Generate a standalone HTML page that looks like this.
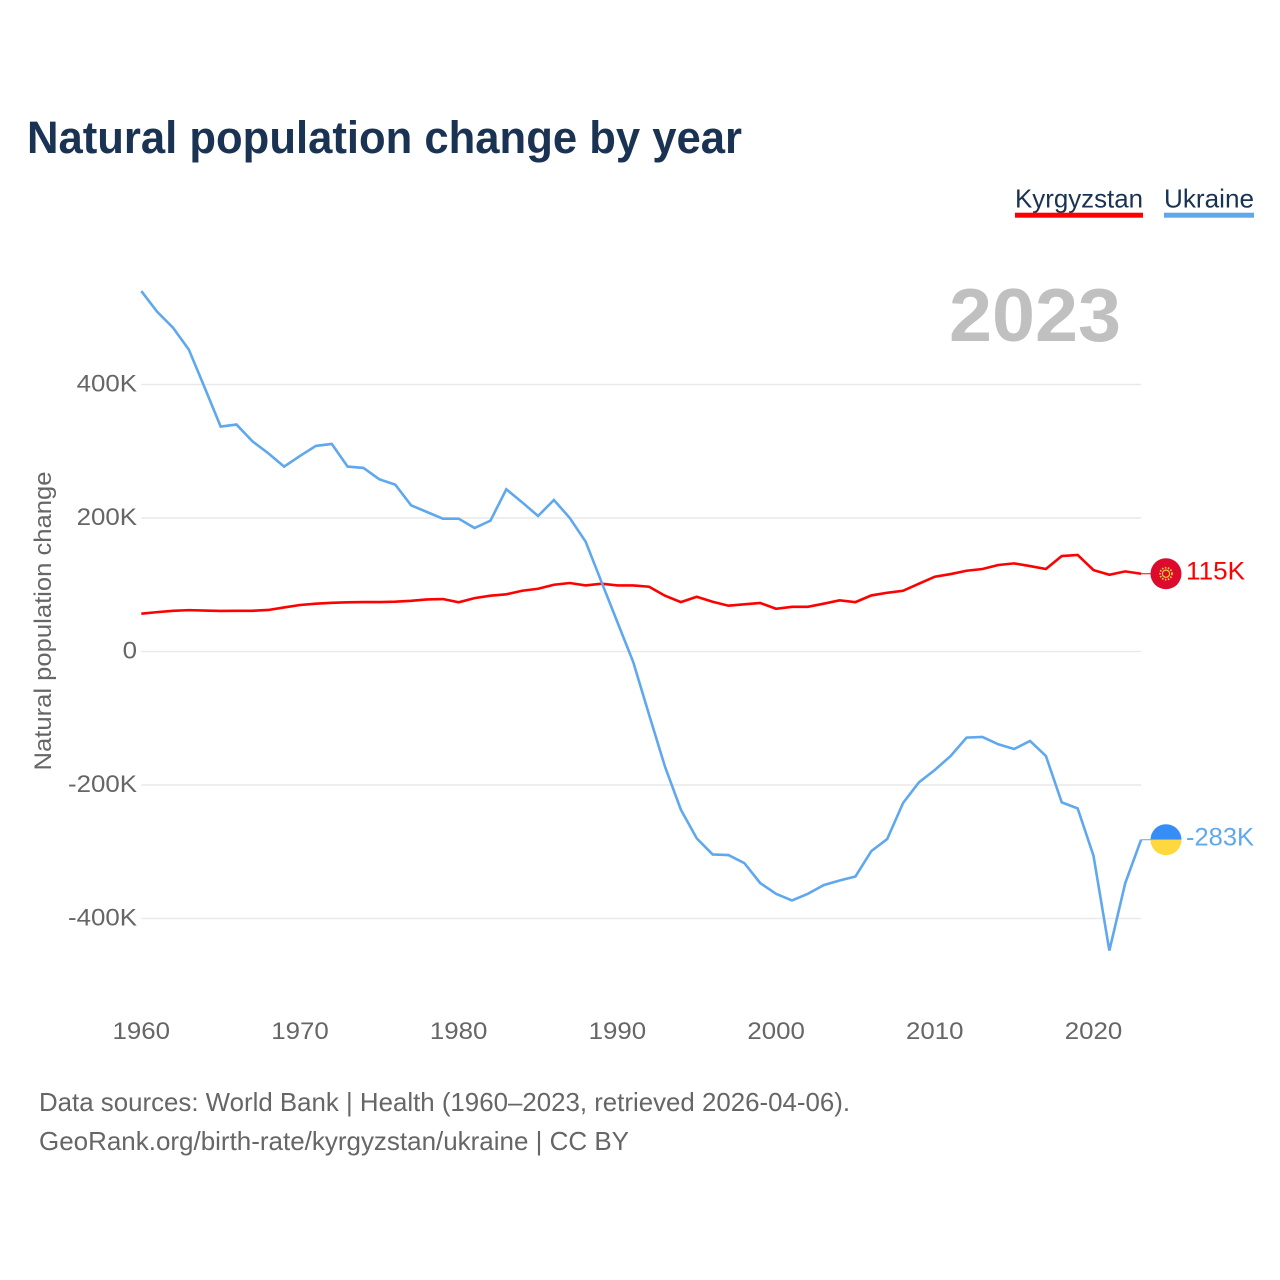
<!DOCTYPE html>
<html lang="en">
<head>
<meta charset="utf-8">
<title>Natural population change by year</title>
<style>
html,body{margin:0;padding:0;background:#fff}
svg{display:block;font-family:"Liberation Sans",sans-serif}
</style>
</head>
<body>
<svg id="chart" xmlns="http://www.w3.org/2000/svg" width="1280" height="1280" viewBox="0 0 1280 1280">
  <rect x="0" y="0" width="1280" height="1280" fill="#ffffff"/>
  <text x="27" y="153" font-size="45" font-weight="700" fill="#1a3353" textLength="715" lengthAdjust="spacingAndGlyphs">Natural population change by year</text>
  <g>
    <g>
      <text x="1015" y="207.5" font-size="26" fill="#1a3353" textLength="128" lengthAdjust="spacingAndGlyphs">Kyrgyzstan</text>
      <rect x="1015" y="212.7" width="128" height="5" fill="#ff0000"/>
    </g>
    <g>
      <text x="1164" y="207.5" font-size="26" fill="#1a3353" textLength="90" lengthAdjust="spacingAndGlyphs">Ukraine</text>
      <rect x="1164" y="212.7" width="90" height="5" fill="#5fa8ee"/>
    </g>
  </g>
  <text x="949" y="341" font-size="75" font-weight="700" fill="#c0c0c0" textLength="172" lengthAdjust="spacingAndGlyphs">2023</text>
  <text transform="translate(51 621) rotate(-90)" text-anchor="middle" font-size="24" fill="#666666" textLength="299" lengthAdjust="spacingAndGlyphs">Natural population change</text>
  <g id="grid"></g>
  <g id="yticks"></g>
  <g id="xticks"></g>
  <g id="series"></g>
  <g id="flags">
    <g id="flag-kg">
      <circle cx="0" cy="0" r="15.5" fill="#dc0a2d"/>
      <circle cx="0" cy="0" r="3.6" fill="none" stroke="#f5c842" stroke-width="1.2"/>
      <circle cx="0" cy="0" r="6" fill="none" stroke="#f5c842" stroke-width="1.8" stroke-dasharray="1.5 1.5"/>
    </g>
    <g id="flag-ua">
      <path d="M-15.5 0A15.5 15.5 0 0 1 15.5 0Z" fill="#358df5"/>
      <path d="M-15.5 0A15.5 15.5 0 0 0 15.5 0Z" fill="#ffd83d"/>
    </g>
  </g>
  <g>
    <text x="39" y="1111" font-size="26" fill="#666666" textLength="811" lengthAdjust="spacingAndGlyphs">Data sources: World Bank | Health (1960–2023, retrieved 2026-04-06).</text>
    <text x="39" y="1150" font-size="26" fill="#666666" textLength="590" lengthAdjust="spacingAndGlyphs">GeoRank.org/birth-rate/kyrgyzstan/ukraine | CC BY</text>
  </g>
</svg>
<script>
const years = [1960,1961,1962,1963,1964,1965,1966,1967,1968,1969,1970,1971,1972,1973,1974,1975,1976,1977,1978,1979,1980,1981,1982,1983,1984,1985,1986,1987,1988,1989,1990,1991,1992,1993,1994,1995,1996,1997,1998,1999,2000,2001,2002,2003,2004,2005,2006,2007,2008,2009,2010,2011,2012,2013,2014,2015,2016,2017,2018,2019,2020,2021,2022,2023];
const kyrgyzstan = [56.6,59,61,62,61.4,60.7,61,61,62.2,66,69.7,71.6,73,73.7,74,74,74.6,76,78,78.6,73.7,80,83.6,85.7,91,94,100,102.6,99,101.6,99,99,97,83.6,74,82,74.6,68.6,70.7,72.7,64,67,67,71.6,76.7,74,84,88,91,101.6,112,116,121,123.6,129.6,132,128,123.6,143,144.6,122,115,120,116.5];
const ukraine = [540,509,485,452,395,337,340,315,297,277,293,308,311,277,275,258,250,219,209,199,199,185,196,243,223.5,203,227,200,164.5,104,44,-16,-95,-172.6,-237,-280,-304,-305,-317,-347,-363,-373,-363,-350,-343,-337,-299,-281,-227,-196,-177.5,-156.5,-129,-128,-139,-146,-134,-156.5,-226,-235,-306,-448,-347,-282];
const yTickValues = [400,200,0,-200,-400];
const yTickLabels = ["400K","200K","0","-200K","-400K"];
const xTickValues = [1960,1970,1980,1990,2000,2010,2020];
const endLabels = ["115K","-283K"];

const SVGNS = "http://www.w3.org/2000/svg";
function xScale(year){ return 141.3 + (year - 1960) * (1093.5 - 141.3) / 60; }
function yScale(v){ return 651.5 - v * 0.6675; }
const xEnd = xScale(years[years.length - 1]);

function linePath(values){
  return values.map((v, i) => (i ? "L" : "M") + xScale(years[i]).toFixed(2) + " " + yScale(v).toFixed(2)).join("");
}
function widenText(node){
  node.setAttribute("textLength", (node.getComputedTextLength() * 1.055).toFixed(1));
  node.setAttribute("lengthAdjust", "spacingAndGlyphs");
}

const gridGroup = document.getElementById("grid");
const yGroup = document.getElementById("yticks");
yTickValues.forEach((v, i) => {
  const gl = document.createElementNS(SVGNS, "line");
  
  
  gl.setAttribute("x1", xScale(1960));
  gl.setAttribute("x2", xEnd);
  gl.setAttribute("y1", yScale(v));
  gl.setAttribute("y2", yScale(v));
  gl.setAttribute("stroke", "#e9e9e9");
  gl.setAttribute("stroke-width", "1.4");
  gridGroup.appendChild(gl);
  const t = document.createElementNS(SVGNS, "text");
  
  
  t.setAttribute("x", 137);
  t.setAttribute("y", yScale(v) + 7.2);
  t.setAttribute("text-anchor", "end");
  t.setAttribute("font-size", "24.5");
  t.setAttribute("fill", "#666666");
  t.textContent = yTickLabels[i];
  yGroup.appendChild(t);
  widenText(t);
});

const xGroup = document.getElementById("xticks");
xTickValues.forEach((yr) => {
  const t = document.createElementNS(SVGNS, "text");
  
  
  t.setAttribute("x", xScale(yr));
  t.setAttribute("y", 1039);
  t.setAttribute("text-anchor", "middle");
  t.setAttribute("font-size", "24.5");
  t.setAttribute("fill", "#666666");
  t.textContent = yr;
  xGroup.appendChild(t);
  widenText(t);
});

const seriesGroup = document.getElementById("series");
const kgLine = document.createElementNS(SVGNS, "path");


kgLine.setAttribute("d", linePath(kyrgyzstan));
kgLine.setAttribute("fill", "none");
kgLine.setAttribute("stroke", "#ff0000");
kgLine.setAttribute("stroke-width", "2.6");
seriesGroup.appendChild(kgLine);
const uaLine = document.createElementNS(SVGNS, "path");


uaLine.setAttribute("d", linePath(ukraine));
uaLine.setAttribute("fill", "none");
uaLine.setAttribute("stroke", "#5fa8ee");
uaLine.setAttribute("stroke-width", "2.6");
seriesGroup.appendChild(uaLine);

const flagX = 1166;
const flagsGroup = document.getElementById("flags");
const kgY = yScale(kyrgyzstan[kyrgyzstan.length - 1]);
const uaY = yScale(ukraine[ukraine.length - 1]);
document.getElementById("flag-kg").setAttribute("transform", "translate(" + flagX + " " + kgY + ")");
document.getElementById("flag-ua").setAttribute("transform", "translate(" + flagX + " " + uaY + ")");

const kgStub = document.createElementNS(SVGNS, "line");


kgStub.setAttribute("x1", xEnd);
kgStub.setAttribute("x2", flagX - 15);
kgStub.setAttribute("y1", kgY);
kgStub.setAttribute("y2", kgY);
kgStub.setAttribute("stroke", "#ff0000");
kgStub.setAttribute("stroke-width", "1");
flagsGroup.insertBefore(kgStub, flagsGroup.firstChild);
const uaStub = document.createElementNS(SVGNS, "line");


uaStub.setAttribute("x1", xEnd);
uaStub.setAttribute("x2", flagX - 15);
uaStub.setAttribute("y1", uaY);
uaStub.setAttribute("y2", uaY);
uaStub.setAttribute("stroke", "#5fa8ee");
uaStub.setAttribute("stroke-width", "1");
flagsGroup.insertBefore(uaStub, flagsGroup.firstChild);

const kgLabel = document.createElementNS(SVGNS, "text");


kgLabel.setAttribute("x", 1186);
kgLabel.setAttribute("y", kgY + 6);
kgLabel.setAttribute("font-size", "25");
kgLabel.setAttribute("fill", "#ff0000");
kgLabel.setAttribute("textLength", "59");
kgLabel.setAttribute("lengthAdjust", "spacingAndGlyphs");
kgLabel.textContent = endLabels[0];
flagsGroup.appendChild(kgLabel);
const uaLabel = document.createElementNS(SVGNS, "text");


uaLabel.setAttribute("x", 1186);
uaLabel.setAttribute("y", uaY + 6);
uaLabel.setAttribute("font-size", "25");
uaLabel.setAttribute("fill", "#5fa8ee");
uaLabel.setAttribute("textLength", "68");
uaLabel.setAttribute("lengthAdjust", "spacingAndGlyphs");
uaLabel.textContent = endLabels[1];
flagsGroup.appendChild(uaLabel);
</script>
</body>
</html>
